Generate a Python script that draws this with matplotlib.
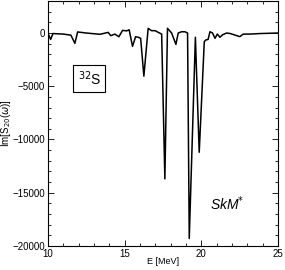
import matplotlib
matplotlib.use("Agg")
import matplotlib.pyplot as plt
from matplotlib.ticker import MultipleLocator

plt.rcParams["font.family"] = ["Liberation Sans", "DejaVu Sans"]

energy = [10.0, 10.18, 10.33, 11.0, 11.5, 11.76, 11.94, 12.5, 13.4, 13.93,
          14.1, 14.37, 14.63, 14.87, 15.13, 15.3, 15.52, 15.72, 15.9, 16.05,
          16.26, 16.54, 16.76, 17.0, 17.2, 17.42, 17.63, 17.8, 18.07, 18.35,
          18.5, 18.72, 18.94, 19.11, 19.22, 19.62, 19.87, 20.2, 20.29, 20.45,
          20.57, 20.74, 20.9, 21.05, 21.22, 21.4, 21.66, 21.9, 22.2, 22.52,
          22.74, 23.18, 23.83, 25.0]
im_s20 = [0, -600, -50, -100, -200, -970, 100, 0, -120, 60,
          -250, -100, -350, 250, 200, 300, -1250, -350, -400, -500,
          -4050, 440, 220, 220, 60, -100, -13700, 440, 0, -1070,
          0, 120, 120, 0, -19300, -400, -11200, -820, -660, -600,
          120, 0, -500, -100, -400, -160, 0, -50, -190, -340,
          -100, -100, -50, 0]

fig = plt.figure(figsize=(2.85, 2.7), dpi=100)
ax = fig.add_axes([0.168, 0.089, 0.807, 0.907])

ax.plot(energy, im_s20, color="black", lw=1.1)

ax.set_xlim(10, 25)
ax.set_ylim(-20000, 3000)
ax.set_xticks([10, 15, 20, 25])
ax.set_yticks([-20000, -15000, -10000, -5000, 0])
ax.xaxis.set_minor_locator(MultipleLocator(1))
ax.yaxis.set_minor_locator(MultipleLocator(1000))
ax.tick_params(which="both", direction="in", top=True, right=True,
               labelsize=7, width=0.6, pad=2)
ax.tick_params(which="major", length=4)
ax.tick_params(which="minor", length=2.5)
for sp in ax.spines.values():
    sp.set_linewidth(0.8)

ax.set_xlabel("E [MeV]", fontsize=6.5)
ax.xaxis.set_label_coords(0.5, -0.045)
ax.set_ylabel(r"Im[S$_{20}$($\omega$)]", fontsize=7)
ax.yaxis.set_label_coords(-0.15, 0.5)

ax.text(0.18, 0.684, r"$^{32}$S", transform=ax.transAxes, fontsize=10,
        ha="center", va="center",
        bbox=dict(boxstyle="square,pad=0.3", fc="white", ec="black", lw=0.8))
ax.text(0.778, 0.171, r"SkM$^{*}$", transform=ax.transAxes, fontsize=10,
        style="italic", ha="center", va="center")

fig.savefig("out.png", dpi=100)
plt.close(fig)
